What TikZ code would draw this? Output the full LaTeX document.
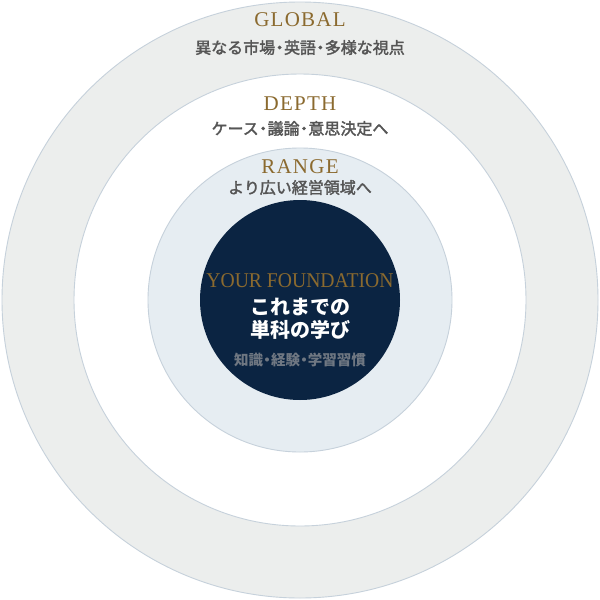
\documentclass[tikz,border=0pt]{standalone}
\usepackage{fontspec}
\setmainfont{Liberation Serif}
\newfontfamily\cjk{Noto Sans CJK JP}
\newfontfamily\cjkm[FakeBold=2]{Noto Sans CJK JP}
\newcommand{\jdot}{\makebox[0.55em]{・}}
\definecolor{ringgray}{HTML}{ECEEED}
\definecolor{ringline}{HTML}{C6D1DB}
\definecolor{ringblue}{HTML}{E6EDF2}
\definecolor{navy}{HTML}{0B2442}
\definecolor{gold}{HTML}{8B6A2F}
\definecolor{subgray}{HTML}{555555}
\definecolor{innergray}{HTML}{6F7782}
\tikzset{
  ring/.style={draw=ringline, line width=0.9pt},
  entitle/.style={text=gold, font=\addfontfeatures{LetterSpace=6}\fontsize{21}{24}\selectfont, inner sep=0pt, anchor=center},
  jpsub/.style={text=subgray, font=\cjkm\fontsize{16}{19}\selectfont, inner sep=0pt, anchor=center},
}
\begin{document}
\begin{tikzpicture}[x=1pt,y=-1pt]
\useasboundingbox (0,0) rectangle (600,600);
\fill[white] (0,0) rectangle (600,600);
\path[ring, fill=ringgray] (300,300) circle[radius=298];
\path[ring, fill=white] (300,300) circle[radius=226];
\path[ring, fill=ringblue] (300,300) circle[radius=152];
\fill[navy] (300,300) circle[radius=100];
\node[entitle] (global) at (300,19.5) {GLOBAL};
\node[jpsub] (globalsub) at (300,47.5) {異なる市場\jdot 英語\jdot 多様な視点};
\node[entitle] (depth) at (300,104) {DEPTH};
\node[jpsub] (depthsub) at (300,128.5) {ケース\jdot 議論\jdot 意思決定へ};
\node[entitle] (range) at (300,167) {RANGE};
\node[jpsub] (rangesub) at (300,187.5) {より広い経営領域へ};
\node[text=gold, font=\fontsize{21}{24}\selectfont, inner sep=0pt] (found) at (300,281) {\scalebox{0.935}[1]{YOUR FOUNDATION}};
\node[text=white, font=\cjk\bfseries\fontsize{20}{23}\selectfont, align=center, inner sep=0pt] (prior) at (300,318.5) {これまでの\\単科の学び};
\node[text=innergray, font=\cjk\bfseries\fontsize{14.5}{17}\selectfont, inner sep=0pt] (skills) at (300,360) {知識\jdot 経験\jdot 学習習慣};
\end{tikzpicture}
\end{document}
